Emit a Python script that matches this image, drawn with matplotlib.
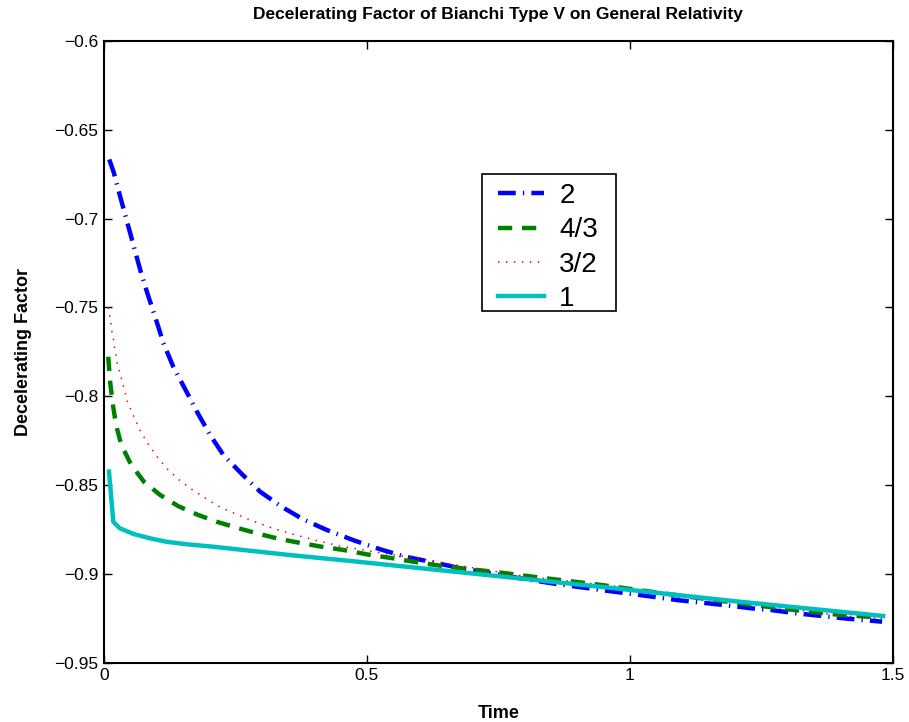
import matplotlib
matplotlib.use("Agg")
import matplotlib.pyplot as plt
from matplotlib.patches import Rectangle

t_two = [0.010, 0.018, 0.030, 0.043, 0.056, 0.069, 0.083, 0.098, 0.113, 0.132,
         0.157, 0.180, 0.202, 0.227, 0.262, 0.297, 0.338, 0.379, 0.424, 0.477,
         0.526, 0.573, 0.620, 0.670, 0.718, 0.766, 0.813, 0.861, 0.909, 0.956,
         0.994, 1.042, 1.089, 1.137, 1.184, 1.232, 1.270, 1.317, 1.365, 1.413, 1.480]
q_two = [-0.6667, -0.6735, -0.6867, -0.7008, -0.7149, -0.7290, -0.7425, -0.7560, -0.7701, -0.7836,
         -0.7975, -0.8105, -0.8219, -0.8331, -0.8438, -0.8538, -0.8623, -0.8694, -0.8754, -0.8814,
         -0.8863, -0.8904, -0.8932, -0.8964, -0.8989, -0.9013, -0.9036, -0.9058, -0.9077, -0.9096,
         -0.9110, -0.9129, -0.9148, -0.9163, -0.9178, -0.9195, -0.9205, -0.9223, -0.9238, -0.9253, -0.9270]

t_four3 = [0.008, 0.012, 0.017, 0.023, 0.033, 0.052, 0.076, 0.107, 0.141, 0.179,
           0.214, 0.256, 0.295, 0.335, 0.374, 0.414, 0.455, 0.500, 0.549, 0.588,
           0.630, 0.670, 0.710, 0.750, 0.790, 0.829, 0.867, 0.909, 0.950, 1.000,
           1.100, 1.200, 1.300, 1.400, 1.480]
q_four3 = [-0.7778, -0.7928, -0.8050, -0.8163, -0.8275, -0.8388, -0.8482, -0.8557, -0.8619, -0.8669,
           -0.8707, -0.8744, -0.8776, -0.8805, -0.8827, -0.8848, -0.8866, -0.8891, -0.8913, -0.8932,
           -0.8951, -0.8966, -0.8979, -0.8992, -0.9007, -0.9022, -0.9035, -0.9050, -0.9065, -0.9085,
           -0.9125, -0.9163, -0.9200, -0.9232, -0.9247]

t_three2 = [0.008, 0.011, 0.013, 0.015, 0.018, 0.020, 0.023, 0.025, 0.037, 0.044,
            0.056, 0.069, 0.084, 0.101, 0.121, 0.143, 0.167, 0.193, 0.217, 0.233,
            0.275, 0.318, 0.360, 0.405, 0.449, 0.493, 0.538, 0.595, 0.658, 0.734,
            0.798, 0.855, 0.924, 0.969, 1.108, 1.210, 1.311, 1.387, 1.478]
q_three2 = [-0.7500, -0.7547, -0.7590, -0.7635, -0.7680, -0.7725, -0.7768, -0.7812, -0.7941, -0.8026,
            -0.8110, -0.8195, -0.8270, -0.8341, -0.8412, -0.8472, -0.8525, -0.8575, -0.8619, -0.8641,
            -0.8694, -0.8741, -0.8778, -0.8814, -0.8844, -0.8866, -0.8889, -0.8913, -0.8945, -0.8983,
            -0.9013, -0.9032, -0.9054, -0.9069, -0.9133, -0.9167, -0.9200, -0.9232, -0.9253]

t_one = [0.0095, 0.0177, 0.030, 0.056, 0.088, 0.119, 0.157, 0.208, 0.354, 0.468,
         0.721, 0.943, 1.210, 1.482]
q_one = [-0.8425, -0.8707, -0.8744, -0.8776, -0.8801, -0.8820, -0.8834, -0.8848, -0.8895, -0.8928,
         -0.9005, -0.9073, -0.9158, -0.9238]

labels = ["2", "4/3", "3/2", "1"]
xticks = [0, 0.5, 1, 1.5]
yticks = [-0.95, -0.9, -0.85, -0.8, -0.75, -0.7, -0.65, -0.6]

plt.rcParams["font.family"] = ["Liberation Sans", "DejaVu Sans"]

fig = plt.figure(figsize=(9.09, 7.22), dpi=100)
ax = fig.add_axes([0.1144, 0.0824, 0.8676, 0.8608])

ax.plot(t_two, q_two, color=(0, 0, 1), lw=3.2, dashes=(4, 1.6, 0.3, 1.6), label=labels[0])
ax.plot(t_four3, q_four3, color=(0, 0.5, 0), lw=3.2, dashes=(3.2, 2.2), label=labels[1])
ax.plot(t_three2, q_three2, color=(1, 0, 0), lw=1.1, dashes=(1, 4.2), label=labels[2])
ax.plot(t_one, q_one, color=(0, 0.75, 0.75), lw=3.2, label=labels[3])

ax.set_xlim(0, 1.5)
ax.set_ylim(-0.95, -0.6)
ax.set_xticks(xticks)
ax.set_xticklabels(["0", "0.5", "1", "1.5"])
ax.set_yticks(yticks)
ax.set_yticklabels(["\u22120.95", "\u22120.9", "\u22120.85", "\u22120.8",
                    "\u22120.75", "\u22120.7", "\u22120.65", "\u22120.6"])
ax.tick_params(direction="in", length=6, width=1, labelsize=12.5,
               top=True, right=True, pad=4)
for s in ax.spines.values():
    s.set_linewidth(1.5)

ax.set_title("Decelerating Factor of Bianchi Type V on General Relativity",
             fontsize=12.5, fontweight="bold", pad=16)
ax.set_xlabel("Time", fontsize=13, fontweight="bold", labelpad=16)
ax.set_ylabel("Decelerating Factor", fontsize=13, fontweight="bold", labelpad=16)

# legend box drawn by hand so the inner padding can differ from the row spacing
box = Rectangle((0.4793, 0.5656), 0.1699, 0.2204, transform=ax.transAxes,
                facecolor="white", edgecolor="black", linewidth=1.2, zorder=4)
ax.add_patch(box)
leg = ax.legend(loc="upper left", bbox_to_anchor=(0.4947, 0.7777), fontsize=20,
                frameon=False, handlelength=1.65, handletextpad=0.55,
                borderpad=0.14, labelspacing=0.30, borderaxespad=0)
leg.set_zorder(5)

fig.savefig("out.png", dpi=100)
